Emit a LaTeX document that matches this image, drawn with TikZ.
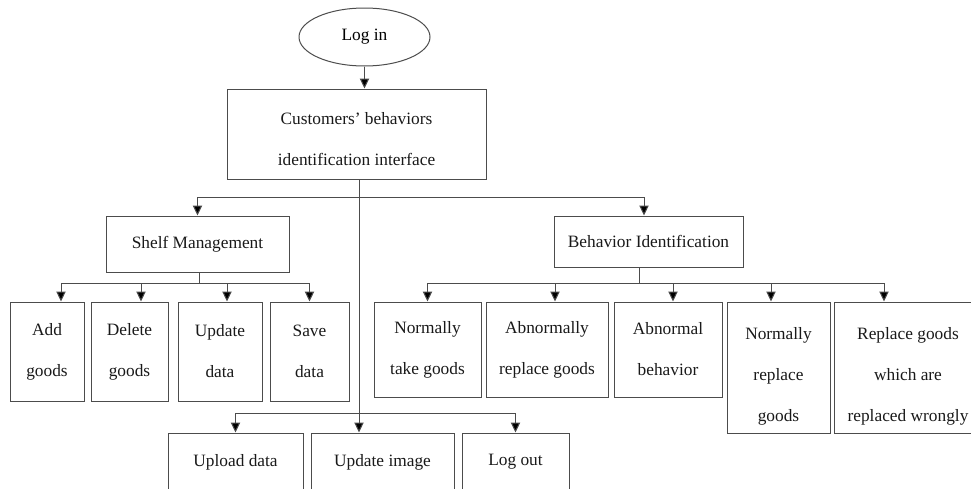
\documentclass[tikz,border=0pt]{standalone}
\usepackage{fontspec}
\setmainfont{Liberation Serif}
\usetikzlibrary{shapes.geometric,arrows.meta}

\begin{document}
\begin{tikzpicture}[x=0.75pt,y=-0.75pt,
    box/.style={draw=black!70,line width=0.75pt,rectangle,inner sep=0pt,align=center,
        font=\fontsize{13}{30.75}\selectfont,text=black!90},
    arr/.style={draw=black!70,line width=0.75pt,-{Triangle[length=7.5pt,width=7pt,fill=black]}},
    ln/.style={draw=black!70,line width=0.75pt}]
    \clip (0,0) rectangle (971,489);

    \node (login) at (364.5,37) [ellipse,draw=black!70,line width=0.75pt,minimum width=98.25pt,minimum height=43.5pt,
        font=\fontsize{13}{30.75}\selectfont] {Log in};
    \node (main) at (356.5,134) [box,minimum width=194.25pt,minimum height=67.5pt,text height=47pt,text depth=0pt] {Customers’ behaviors\\identification interface};

    \node (shelf) at (197.5,244) [box,minimum width=137.25pt,minimum height=42pt] {Shelf Management};
    \node (behav) at (648.5,241.5) [box,minimum width=141.75pt,minimum height=38.25pt] {Behavior Identification};

    \node (add) at (47,351.5) [box,minimum width=55.5pt,minimum height=74.25pt] {Add\\goods};
    \node (delete) at (129.5,351.5) [box,minimum width=57.75pt,minimum height=74.25pt] {Delete\\goods};
    \node (updata) at (220,351.5) [box,minimum width=63pt,minimum height=74.25pt] {Update\\data};
    \node (save) at (309.5,351.5) [box,minimum width=59.25pt,minimum height=74.25pt] {Save\\data};

    \node (take) at (427.5,349.5) [box,minimum width=80.25pt,minimum height=71.25pt] {Normally\\take goods};
    \node (abrep) at (547,349.5) [box,minimum width=91.5pt,minimum height=71.25pt] {Abnormally\\replace goods};
    \node (abbeh) at (668,349.5) [box,minimum width=81pt,minimum height=71.25pt] {Abnormal\\behavior};
    \node (norep) at (778.5,367.5) [box,minimum width=77.25pt,minimum height=98.25pt,text height=81pt,text depth=0pt] {Normally\\replace\\goods};
    \node (wrong) at (908,367.5) [box,minimum width=111pt,minimum height=98.25pt,text height=81pt,text depth=0pt] {Replace goods\\which are\\replaced wrongly};

    \node (upload) at (235.5,462) [box,minimum width=101.25pt,minimum height=43.5pt] {Upload data};
    \node (upimg) at (382.5,462) [box,minimum width=107.25pt,minimum height=43.5pt] {Update image};
    \node (logout) at (515.5,462) [box,minimum width=80.25pt,minimum height=43.5pt] {Log out};

    % trunk and buses
    \coordinate (trunk) at (359,197);
    \coordinate (sbus) at (199,283);
    \coordinate (bbus) at (639,283);
    \coordinate (lbus) at (359,413);

    \draw[arr] (login.south) -- (login.south |- main.north);
    \draw[arr] (trunk |- main.south) -- (trunk |- upimg.north);
    \draw[arr] (trunk) -| (shelf.north);
    \draw[arr] (trunk) -| ([xshift=-3.375pt]behav.north);

    \draw[ln] (sbus |- shelf.south) -- (sbus);
    \draw[arr] (sbus) -| ([xshift=10.5pt]add.north);
    \draw[arr] (sbus) -| ([xshift=8.625pt]delete.north);
    \draw[arr] (sbus) -| ([xshift=5.25pt]updata.north);
    \draw[arr] (sbus) -| (save.north);

    \draw[ln] (bbus |- behav.south) -- (bbus);
    \draw[arr] (bbus) -| (take.north);
    \draw[arr] (bbus) -| ([xshift=6pt]abrep.north);
    \draw[arr] (bbus) -| ([xshift=3.75pt]abbeh.north);
    \draw[arr] (bbus) -| ([xshift=-5.625pt]norep.north);
    \draw[arr] (bbus) -| ([xshift=-18pt]wrong.north);

    \draw[arr] (lbus) -| (upload.north);
    \draw[arr] (lbus) -| (logout.north);
\end{tikzpicture}
\end{document}
